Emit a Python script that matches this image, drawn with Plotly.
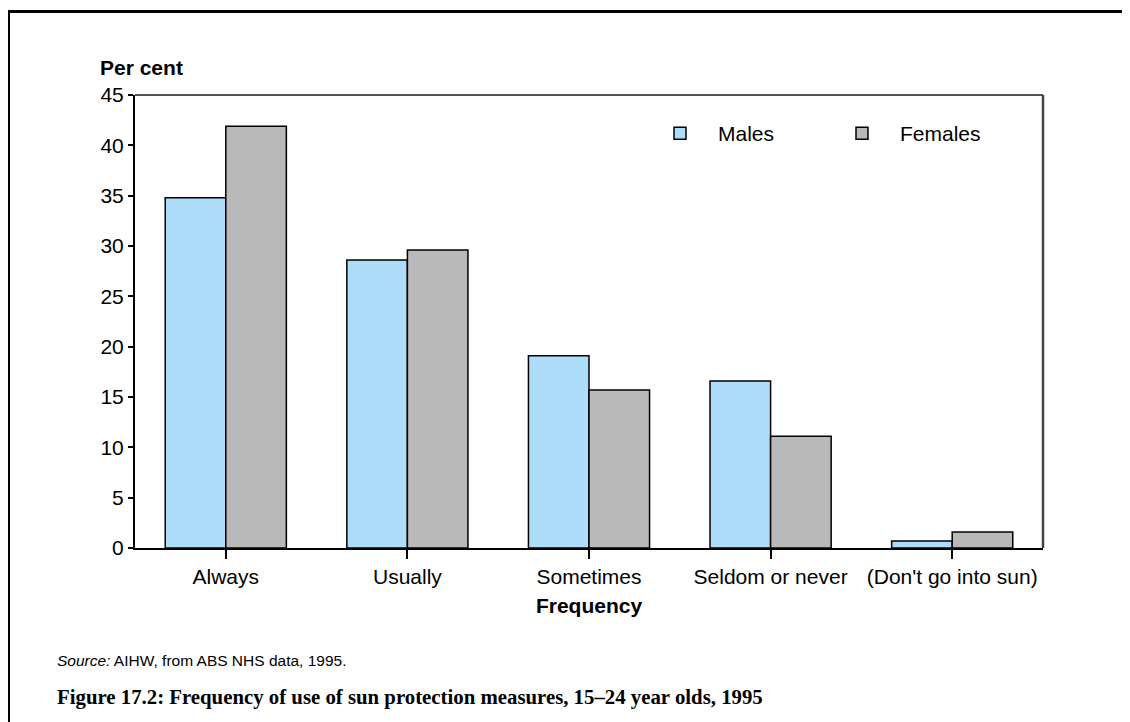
import plotly.graph_objects as go

categories = ["Always", "Usually", "Sometimes", "Seldom or never", "(Don't go into sun)"]
males = [34.8, 28.6, 19.1, 16.6, 0.7]
females = [41.9, 29.6, 15.7, 11.1, 1.6]
y_ticks = [0, 5, 10, 15, 20, 25, 30, 35, 40, 45]

# the page has an 8px body margin; work in page coordinates and convert
OFF = 8
W, H = 1130 - OFF, 722 - OFF
PL, PR, PT, PB = 135, 1043, 95, 548  # plot area in page coordinates
L, R, T, B = PL - OFF, W - (PR - OFF), PT - OFF, H - (PB - OFF)
pw, ph = W - L - R, H - T - B

def px(x):
    return (x - OFF - L) / pw

def py(y):
    return (H - B - (y - OFF)) / ph

fig = go.Figure()
fig.add_trace(go.Bar(name="Males", x=categories, y=males,
                     marker=dict(color="#AEDDF9", line=dict(color="black", width=1.5))))
fig.add_trace(go.Bar(name="Females", x=categories, y=females,
                     marker=dict(color="#B9B9BA", line=dict(color="black", width=1.5))))

font = "Liberation Sans, Arial, sans-serif"
fig.update_layout(
    width=W, height=H,
    margin=dict(l=L, r=R, t=T, b=B, pad=0, autoexpand=False),
    paper_bgcolor="white", plot_bgcolor="white",
    barmode="group", bargap=0.333, bargroupgap=0,
    font=dict(family=font, size=21, color="black"),
    showlegend=True,
    legend=dict(orientation="h", x=px(642), y=py(113), xanchor="left", yanchor="top",
                entrywidth=101, entrywidthmode="pixels", itemwidth=66,
                font=dict(size=21, family=font), bgcolor="rgba(0,0,0,0)"),
    xaxis=dict(showline=True, linecolor="black", linewidth=2, ticks="outside", ticklen=9,
               tickcolor="black", tickwidth=1.5, showgrid=False, tickfont=dict(size=21),
               title=dict(text="<b>Frequency</b>", font=dict(size=21), standoff=11)),
    yaxis=dict(range=[0, 45], tickvals=y_ticks, showline=True, linecolor="black", linewidth=2,
               ticks="outside", ticklen=5, tickcolor="black", tickwidth=1.5, showgrid=False,
               zeroline=False, tickfont=dict(size=21)),
)

# top/right plot frame lines
fig.add_shape(type="line", xref="paper", yref="paper", x0=0, x1=1, y0=1, y1=1,
              line=dict(color="#555555", width=2))
fig.add_shape(type="line", xref="paper", yref="paper", x0=1, x1=1, y0=0, y1=1,
              line=dict(color="#444444", width=2.5))
# outer frame (left and top)
fig.add_shape(type="line", xref="paper", yref="paper", x0=px(8.5), x1=px(8.5), y0=py(11.5), y1=py(760),
              line=dict(color="black", width=3))
fig.add_shape(type="line", xref="paper", yref="paper", x0=px(7), x1=px(1160), y0=py(11.5), y1=py(11.5),
              line=dict(color="black", width=3))

fig.add_annotation(text="<b>Per cent</b>", xref="paper", yref="paper", x=px(98), y=py(68),
                   xanchor="left", yanchor="middle", showarrow=False, font=dict(size=21, family=font))
fig.add_annotation(text="<i>Source:</i> AIHW, from ABS NHS data, 1995.", xref="paper", yref="paper",
                   x=px(55), y=py(660), xanchor="left", yanchor="middle", showarrow=False,
                   font=dict(size=15.5, family=font))
fig.add_annotation(text="<b>Figure 17.2: Frequency of use of sun protection measures, 15–24 year olds, 1995</b>",
                   xref="paper", yref="paper", x=px(55), y=py(697), xanchor="left", yanchor="middle",
                   showarrow=False, font=dict(size=20.8, family="Liberation Serif, serif"))

fig.write_html("out.html")
